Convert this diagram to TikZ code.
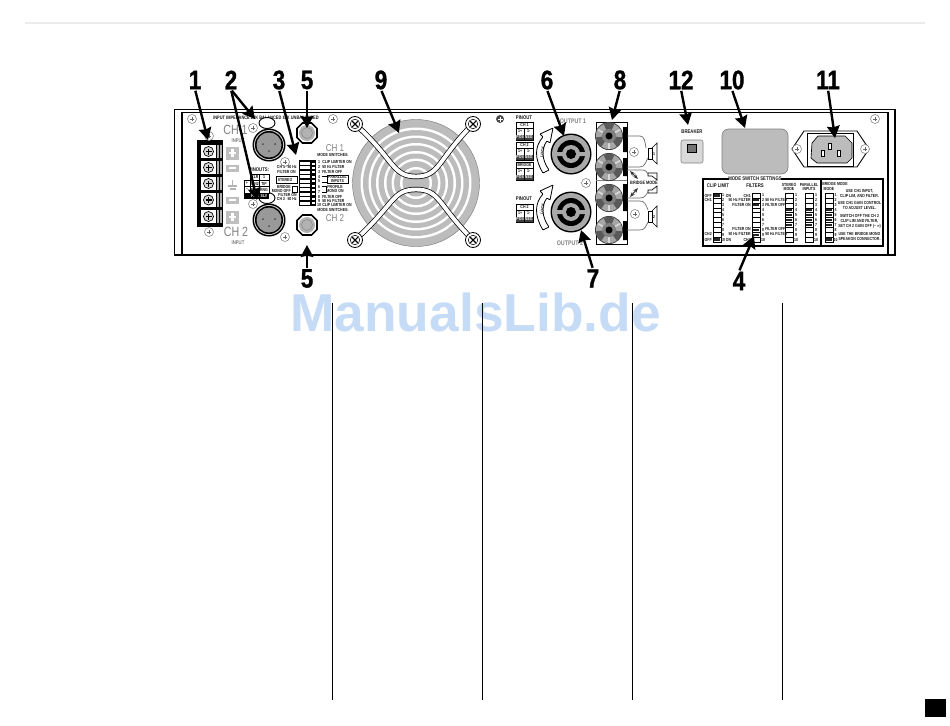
\documentclass[tikz,border=0pt]{standalone}
\usepackage{fontspec}
\setmainfont{Liberation Sans}
\newfontfamily\cond[FakeStretch=.8]{Liberation Sans}
\newfontfamily\heavy[FakeStretch=.84,FakeBold=1.2]{Liberation Sans}
\usetikzlibrary{arrows.meta}
\definecolor{pg}{HTML}{BCBCBC}
\definecolor{dg}{HTML}{808080}
\definecolor{wm}{HTML}{C6DCF6}
\newcounter{tc}
\tikzset{
 x=.75pt,y=-.75pt,
 bignum/.style={font=\heavy\bfseries\fontsize{20}{20}\selectfont,inner sep=0pt},
 callout/.style={line width=1.8pt,-{Stealth[length=9pt,width=9.5pt,inset=1pt]},shorten <=1pt},
 tiny/.style={font=\cond\bfseries\fontsize{3.3}{3.3}\selectfont,inner sep=0pt,text=black!90},
 smalltx/.style={font=\cond\bfseries\fontsize{4}{4}\selectfont,inner sep=0pt,text=black!90},
 ghost/.style={font=\cond\fontsize{10}{10}\selectfont,inner sep=0pt,text=dg},
 ghostsm/.style={font=\cond\fontsize{7.5}{7.5}\selectfont,inner sep=0pt,text=dg},
 panel/.style={line width=.9pt,draw=black},
}
\newcommand{\tx}[4][tiny]{\stepcounter{tc}\node[#1] (t\thetc) at (#2,#3) {#4};}
\newcommand{\lx}[4][tiny]{\stepcounter{tc}\node[#1,anchor=west] (t\thetc) at (#2,#3) {#4};}
\newcommand{\rx}[4][tiny]{\stepcounter{tc}\node[#1,anchor=east] (t\thetc) at (#2,#3) {#4};}
\newcommand{\screw}[2]{\draw[line width=.4pt,draw=dg,fill=white] (#1,#2) circle (4.5);
 \draw[line width=.5pt,draw=black!60] (#1-2.2,#2) -- (#1+2.2,#2) (#1,#2-2.2) -- (#1,#2+2.2);}
\newcommand{\fanscrew}[2]{\draw[line width=.6pt,fill=white] (#1,#2) circle (7.5);
 \draw[line width=.4pt] (#1,#2) circle (4.8);
 \draw[line width=.8pt] (#1-2.8,#2-2.8) -- (#1+2.8,#2+2.8) (#1-2.8,#2+2.8) -- (#1+2.8,#2-2.8);}
\newcommand{\xlr}[2]{\fill[black] (#1,#2) circle (16.5);\fill[black!20] (#1,#2) circle (15);
 \fill[black] (#1,#2) circle (14);\fill[black!40] (#1,#2) circle (12.5);
 \fill[black!70] (#1-6,#2-1) circle (1) (#1+6,#2-1) circle (1) (#1,#2+6) circle (1);}
\newcommand{\knob}[2]{\draw[line width=1.2pt,fill=white] (#1-4.5,#2-10) -- (#1+4.5,#2-10) -- (#1+10,#2-4.5) -- (#1+10,#2+4.5) -- (#1+4.5,#2+10) -- (#1-4.5,#2+10) -- (#1-10,#2+4.5) -- (#1-10,#2-4.5) -- cycle;
 \fill[black!30] (#1,#2) circle (8);\draw[line width=.3pt,draw=black!50] (#1,#2) circle (5.5);}
\newcommand{\speakon}[2]{\fill[black] (#1,#2) circle (20.5);\fill[pg!90!black] (#1,#2) circle (19);
 \fill[black] (#1,#2) circle (14);\fill[pg!90!black] (#1,#2) circle (9);\fill[black] (#1,#2) circle (5);
 \fill[pg!90!black] (#1-14.5,#2-2) rectangle (#1-8,#2+2) (#1+8,#2-2) rectangle (#1+14.5,#2+2);}
\newcommand{\post}[2]{\fill[black!80] (#1,#2) circle (14);\fill[black!35] (#1,#2) circle (13.2);
 \foreach \a in {30,150,270}{\fill[black!65] (#1,#2) -- ++(\a-24:13.2) arc[start angle=\a-24,end angle=\a+24,radius=13.2] -- cycle;}
 \foreach \a in {90,210,330}{\draw[line width=1.2pt,draw=black!15] (#1,#2) -- ++(\a:13);}
 \fill[black!50] (#1,#2) circle (7);\fill[black] (#1,#2) circle (3.5);}
\newcommand{\pintable}[5]{%
 \draw[line width=.5pt,fill=white] (#1,#2) rectangle (#1+17,#2+18);
 \fill[black!75] (#1,#2+12.5) rectangle (#1+17,#2+18);
 \draw[line width=.4pt] (#1,#2+6) -- (#1+17,#2+6) (#1+8.5,#2+6) -- (#1+8.5,#2+18);
 \tx{#1+8.5}{#2+3}{#3}\tx{#1+4.2}{#2+9.2}{1+}\tx{#1+12.8}{#2+9.2}{1-}
 \tx[tiny,text=white]{#1+4.2}{#2+15.2}{#4}\tx[tiny,text=white]{#1+12.8}{#2+15.2}{#5}}
\newcommand{\swcol}[5]{% x y width rows black-list
 \draw[line width=.5pt] (#1,#2) rectangle (#1+#3,#2+#4*4.9);
 \foreach \r in {1,...,#4}{\draw[line width=.3pt] (#1,#2+\r*4.9) -- (#1+#3,#2+\r*4.9);}
 \foreach \r in {#5}{\fill[black!85] (#1+1,#2+\r*4.9-3.6) rectangle (#1+#3-1,#2+\r*4.9-1.4);}}
\begin{document}
\begin{tikzpicture}
\useasboundingbox (0,0) rectangle (950,725);
\fill[white] (0,0) rectangle (950,725);
% header rule, watermark and page furniture
\draw[line width=2.2pt,draw=black!8] (25,23) -- (925,23);
\node[font=\fontsize{40}{40}\selectfont\bfseries,text=wm,inner sep=0pt] (wmark) at (475.5,312) {ManualsLib.de};
\foreach \x in {332,482,632,782}{\draw[line width=.55pt,draw=black] (\x,303) -- (\x,700);}
\fill[black] (925,699) rectangle (945.5,717);
% panel
\draw[panel] (182,255) -- (174.5,255) -- (174.5,109.5) -- (895,109.5) -- (895,255) -- (888,255);
\draw[panel,fill=white] (182,112.5) rectangle (888,255);
% barrier strip
\fill[black] (197,140) rectangle (223,227);
\foreach \y/\h in {145/13,161/13,177/13,193/14,210/13}{
 \fill[white] (201,\y) rectangle (216,\y+\h);
 \fill[black!30] (217,\y) rectangle (218.5,\y+\h);\fill[black!30] (220,\y) rectangle (221.5,\y+\h);
 \draw[line width=.5pt,fill=black!15] (208.5,\y+\h/2) circle (5);
 \draw[line width=.8pt] (205.5,\y+\h/2) -- (211.5,\y+\h/2) (208.5,\y+\h/2-3) -- (208.5,\y+\h/2+3);}
\screw{192}{119}\screw{209}{136}\screw{209}{232}\screw{333}{119}
\screw{253}{128}\screw{285}{162}\screw{253}{204}\screw{285}{237}
% input labels
\tx[ghost]{235.5}{130}{CH 1}\tx[ghost]{236}{232}{CH 2}
\tx[smalltx,text=dg]{238}{141}{INPUT}\tx[smalltx,text=dg]{238}{243}{INPUT}
\tx[tiny,font=\cond\bfseries\fontsize{3.7}{3.7}\selectfont]{266}{118}{INPUT IMPEDANCE 20K BALANCED 10K UNBALANCED}
\foreach \y/\h/\s in {153/13/1,168/7/0,200/7/0,217/13/1}{
 \fill[black!25] (226,\y-\h/2) rectangle (239,\y+\h/2);
 \draw[line width=1.6pt,draw=white] (229,\y) -- (236,\y);
 \ifnum\s=1 \draw[line width=1.6pt,draw=white] (232.5,\y-4) -- (232.5,\y+4);\fi}
\draw[line width=1pt,draw=black!30] (232.5,180) -- (232.5,186) (228,186) -- (237,186) (229.5,189) -- (235.5,189);
% XLR
\xlr{269}{145}\xlr{269}{220}
\draw[line width=.7pt,fill=white] (267,123) ellipse (8 and 5.5);
\draw[line width=.7pt,fill=white] (267,198) ellipse (8 and 5.5);
% pinouts grid
\tx[smalltx]{259}{170}{PINOUTS:}
\draw[line width=.7pt,fill=white] (250,174) rectangle (269,180.5);
\draw[line width=.7pt,fill=white] (244,180.5) rectangle (269,193);
\fill[black] (244,193) rectangle (269,199);
\draw[line width=.7pt] (259,174) -- (259,193) (250,180.5) -- (250,193) (244,186.7) -- (269,186.7);
\foreach \x/\y/\t in {255/177.3/XLR,264/177.3/1/4,247/183.6/{+},255/183.6/PIN2,264/183.6/TIP,247/190/{–},255/190/PIN3,264/190/RNG}{
 \tx{\x}{\y}{\t}}
\foreach \x/\y/\t in {255/196/PIN1,264/196/SLV}{\tx[tiny,text=white]{\x}{\y}{\t}}
% mode switch block (rear)
\knob{307}{133}\knob{307}{225}
\fill[black] (298.5,160) rectangle (316,206);
\foreach \r in {0,...,9}{\fill[white] (300,162+\r*4.4) rectangle (310,165+\r*4.4);\fill[white] (312,162.5+\r*4.4) rectangle (314.5,164.5+\r*4.4);}
\rx{297}{167}{50 Hz}\rx{296}{172}{FILTER ON}\rx{297}{194.5}{FILTER ON}\rx{297}{199}{50 Hz}
\rx{291}{186.5}{BRIDGE}\rx{291}{190.5}{MONO OFF}
\tx{281}{167}{CH 1}\tx{281}{199}{CH 2}
\draw[line width=.6pt,fill=white] (276,176) rectangle (297,183);
\tx{285}{179.5}{STEREO}
\draw[line width=.6pt,fill=white] (292,186) rectangle (297,192);
\tx[ghostsm]{335}{148}{CH 1}\tx[ghostsm]{335}{218}{CH 2}
\tx[tiny]{333}{155}{MODE SWITCHES:}\tx[tiny]{333}{209.5}{MODE SWITCHES:}
\foreach \y/\n/\t in {161.5/1/CLIP LIMITER ON,166.5/2/50 Hz FILTER,171.5/3/FILTER OFF,176.5/4/,181/5/,187/6/,191.5/7/,196.5/8/FILTER OFF,200.5/9/50 Hz FILTER,205/10/CLIP LIMITER ON}{
 \tx{319}{\y}{\n}\lx{322}{\y}{\t}}
\draw[line width=.6pt,fill=white] (327,175) rectangle (348,183);
\tx{337.5}{177}{PARALLEL}\tx{337.5}{181}{INPUTS}
\draw[line width=.5pt] (322,176) -- (327,176) -- (327,182) -- (322,182);
\draw[line width=.5pt] (322,186) -- (326,186) -- (326,192) -- (322,192);
\tx{335}{186.5}{PROFILE}\tx{335}{191}{MONO ON}
% fan
\foreach \r/\c in {63.5/pg,55.5/white,53/pg,47.5/white,45/pg,40/white,37.5/pg,32/white,29.5/pg,24.5/white,22/pg,16/white,13.5/pg}{\fill[\c] (416,183) circle (\r);}
\draw[line width=.35pt,draw=dg] (416,183) circle (63.5);
\draw[line width=4pt] (355,124) .. controls (395,160) and (392,176.5) .. (416,176.5) .. controls (440,176.5) and (437,160) .. (473,124);
\draw[line width=4pt] (355,240) .. controls (395,204) and (392,189.5) .. (416,189.5) .. controls (440,189.5) and (437,204) .. (473,240);
\draw[line width=2.9pt,white] (355,124) .. controls (395,160) and (392,176.5) .. (416,176.5) .. controls (440,176.5) and (437,160) .. (473,124);
\draw[line width=2.9pt,white] (355,240) .. controls (395,204) and (392,189.5) .. (416,189.5) .. controls (440,189.5) and (437,204) .. (473,240);
\fanscrew{355}{124}\fanscrew{473}{124}\fanscrew{355}{240}\fanscrew{473}{240}
\fill[black!70] (500,119) circle (4);\draw[line width=.6pt,white] (497.5,119) -- (502.5,119) (500,116.5) -- (500,121.5);
% output pin tables
\tx[smalltx]{524}{117.5}{PINOUT}
\pintable{516}{122}{CH 1}{POS}{NEG}\pintable{516}{142}{CH 2}{POS}{NEG}\pintable{516}{162}{BRIDGE}{POS}{NEG}
\tx[smalltx]{524}{199}{PINOUT}
\pintable{516}{204}{CH 2}{POS}{NEG}
% lock arrows
\foreach \dy in {0,57}{
 \draw[line width=.6pt,fill=white,rounded corners=.5pt] (543,173+\dy) .. controls (534,158+\dy) and (535,146+\dy) .. (543,137+\dy) -- (540,134+\dy) -- (553,128+\dy) -- (550,143+\dy) -- (547,141+\dy) .. controls (541,149+\dy) and (542,160+\dy) .. (549,170+\dy) -- cycle;
 \stepcounter{tc}\node[tiny,rotate=80] (t\thetc) at (542.5,152+\dy) {LOCK};}
\speakon{571}{154}\speakon{571}{212}
\tx[smalltx,font=\cond\bfseries\fontsize{5}{5}\selectfont,text=dg]{573}{121}{OUTPUT 1}
\tx[smalltx,font=\cond\bfseries\fontsize{5}{5}\selectfont,text=dg]{570}{243}{OUTPUT 2}
\screw{586}{183}
% binding posts
\draw[line width=.6pt] (596,122) rectangle (627,244);
\draw[line width=.4pt,draw=dg] (596,180) -- (627,180);
\fill[black] (623,127) rectangle (627,152) (623,158) rectangle (627,176) (623,184) rectangle (627,211) (623,221) rectangle (627,240);
\post{609}{136}\post{609}{167}\post{609}{198}\post{609}{230}
% speakers
\screw{634}{152}\screw{635}{214}
\foreach \y/\n in {153/1,216/2}{
 \draw[line width=.5pt] (648,\y-5) rectangle (652,\y+6);
 \draw[line width=.5pt] (652,\y-5) -- (657,\y-10) -- (657,\y+11) -- (652,\y+6);
 \tx{654}{\y+.5}{\n}}
\draw[line width=.5pt] (648,173) -- (657,173) -- (657,180) -- (652,176) -- (648,176) -- cycle;
\draw[line width=.5pt] (648,190) -- (652,190) -- (657,186) -- (657,193) -- (648,193) -- cycle;
\draw[line width=.5pt,draw=black!60] (627,136) -- (640,136) .. controls (645,136) and (645,143) .. (646,148);
\draw[line width=.5pt,draw=black!60] (627,167) -- (640,167) .. controls (645,167) and (646,161) .. (648,158);
\draw[line width=.5pt,draw=black!60] (627,170) -- (642,170) .. controls (646,170) and (647,172) .. (648,174);
\draw[line width=.5pt,draw=black!60] (627,198) -- (640,198) .. controls (646,198) and (646,194) .. (648,192);
\draw[line width=.5pt,draw=black!60] (627,201) -- (640,201) .. controls (645,201) and (646,205) .. (648,210);
\draw[line width=.5pt,draw=black!60] (627,230) -- (640,230) .. controls (645,230) and (646,226) .. (648,222);
\draw[line width=.7pt,draw=black!80,{Stealth[length=4pt]}-{Stealth[length=4pt]}] (630,171) -- (638,179);
\draw[line width=.7pt,draw=black!80,{Stealth[length=4pt]}-{Stealth[length=4pt]}] (630,197) -- (638,188);
\tx[tiny,font=\cond\bfseries\fontsize{3.6}{3.6}\selectfont]{644}{183}{BRIDGE MODE}
% breaker
\tx[smalltx]{692}{132}{BREAKER}
\draw[line width=.4pt,draw=dg,fill=black!15,rounded corners=1.5pt] (681,140) rectangle (703,163);
\draw[line width=.6pt,fill=black!55] (687,144) rectangle (696,152);
% box 10
\draw[line width=.5pt,draw=dg,fill=pg,rounded corners=5pt] (722,129) rectangle (788,174);
% power inlet
\draw[line width=.7pt] (792,149) -- (804,131) -- (857,131) -- (869,149) -- (857,167) -- (804,167) -- cycle;
\draw[line width=.7pt] (807,133) rectangle (853,166);
\draw[line width=.5pt,fill=pg] (812,143) -- (818,136) -- (845,136) -- (852,143) -- (852,158) -- (847,163) -- (817,163) -- (811,158) -- cycle;
\draw[line width=.7pt,fill=white] (828.5,143) rectangle (831.5,149) (821.5,150) rectangle (824.5,156) (837.5,150) rectangle (840.5,156);
\screw{797}{149}\screw{865}{149}\screw{875}{119}
% settings box
\draw[line width=.9pt] (703,179) rectangle (883,246);
\draw[line width=.9pt] (821,179) -- (821,246);
\fill[white] (729,176) rectangle (781,182);
\tx[smalltx]{755}{179}{MODE SWITCH SETTINGS}
\tx[smalltx]{718}{186}{CLIP LIMIT}\tx[smalltx]{755}{186}{FILTERS}
\tx{789}{185}{STEREO}\tx{789}{189}{MODE}
\tx{809}{185}{PARALLEL}\tx{809}{189}{INPUTS}
\tx{835}{184}{BRIDGE MODE}\tx{829}{189}{MODE}
\swcol{713}{193}{8}{10}{1,10}
\swcol{752}{193}{8}{10}{2,3,8,9}
\swcol{785}{193}{8}{10}{4,5,6,7}
\swcol{805}{193}{8}{10}{4,5,6,7}
\swcol{825}{193}{8}{10}{4,5,6,7,10}
\foreach \n in {1,...,10}{
 \pgfmathsetmacro\yy{190.5+\n*4.9}
 \tx{723}{\yy}{\n}\tx{763}{\yy}{\n}\tx{796}{\yy}{\n}\tx{816}{\yy}{\n}\tx{835.5}{\yy}{\n}}
\rx{712}{195.5}{OFF}\rx{712}{200}{CH1}\rx{712}{234}{CH2}\rx{712}{239.5}{OFF}
\lx{725.5}{195.5}{ON}\lx{725.5}{239.5}{ON}
\rx{751}{195.5}{CH1}\rx{751}{200}{50 Hz FILTER}\rx{751}{205}{FILTER ON}
\rx{751}{229}{FILTER ON}\rx{751}{234}{50 Hz FILTER}\rx{751}{239.5}{CH2}
\lx{765}{200}{50 Hz FILTER}\lx{765}{205}{FILTER OFF}
\lx{765}{229}{FILTER OFF}\lx{765}{234}{50 Hz FILTER}
\foreach \y/\t in {191/{USE CH1 INPUT,},196/{CLIP LIM, AND FILTER.},203/{USE CH1 GAIN CONTROL},208/TO ADJUST LEVEL.,216/SWITCH OFF THE CH 2,221/{CLIP LIM AND FILTER,},226/SET CH 2 GAIN OFF (– ∞),234/USE THE BRIDGE MONO,239/SPEAKON CONNECTOR.}{
 \tx{859.5}{\y}{\t}}
% callouts
\node[bignum] (n1) at (195,80) {1};
\node[bignum] (n2) at (231,80) {2};
\node[bignum] (n3) at (279,80) {3};
\node[bignum] (n5a) at (307,80) {5};
\node[bignum] (n9) at (381,80) {9};
\node[bignum] (n6) at (547,80) {6};
\node[bignum] (n8) at (620,80) {8};
\node[bignum] (n12) at (681,80) {12};
\node[bignum] (n10) at (732,80) {10};
\node[bignum] (n11) at (828,80) {11};
\node[bignum] (n5b) at (307,278.5) {5};
\node[bignum] (n7) at (593,278.5) {7};
\node[bignum] (n4) at (739,281) {4};
\coordinate (a1) at (208,140);\coordinate (a2a) at (255,119);\coordinate (a2b) at (257,200);
\coordinate (a3) at (296,155);\coordinate (a5a) at (307,128);\coordinate (a5b) at (307,245);
\coordinate (a9) at (399,133);\coordinate (a6) at (564,136);\coordinate (a8) at (612,120);
\coordinate (a7) at (581,230);\coordinate (a12) at (688,125);\coordinate (a10) at (745,128);
\coordinate (a11) at (835,138);\coordinate (a4) at (754,236);
\draw[callout] (n1.south) -- (a1);
\draw[callout] (n2.south) -- (a2a);
\draw[callout] (n2.south) -- (a2b);
\draw[callout] (n3.south) -- (a3);
\draw[callout] (n5a.south) -- (a5a);
\draw[callout] (n5b.north) -- (a5b);
\draw[callout] (n9.south) -- (a9);
\draw[callout] (n6.south) -- (a6);
\draw[callout] (n8.south) -- (a8);
\draw[callout] (n7.north) -- (a7);
\draw[callout] (n12.south) -- (a12);
\draw[callout] (n10.south) -- (a10);
\draw[callout] (n11.south) -- (a11);
\draw[callout] (n4.north) -- (a4);
\end{tikzpicture}
\end{document}
